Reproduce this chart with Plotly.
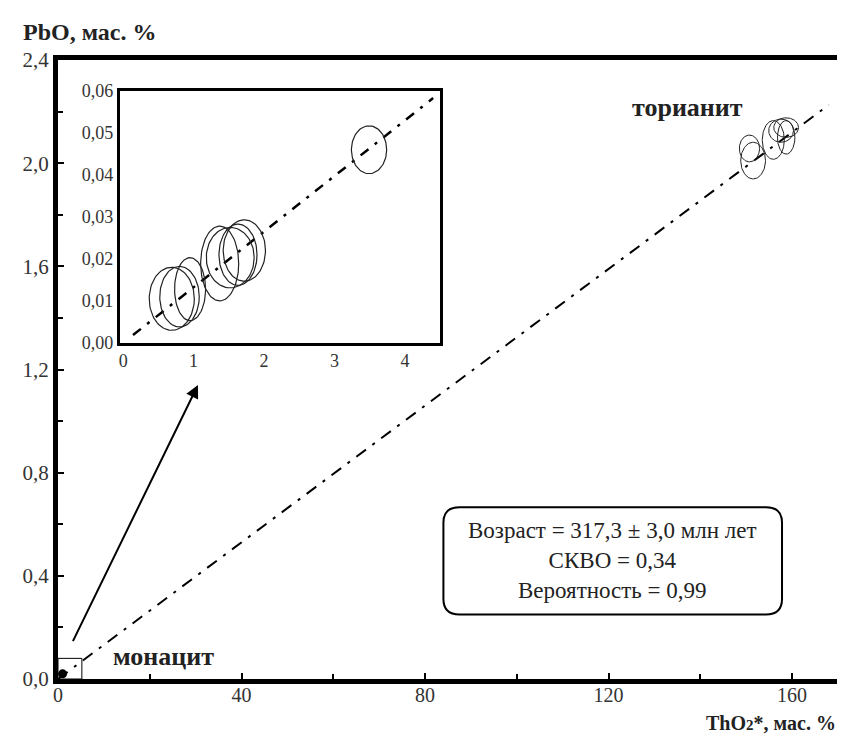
import numpy as np
import plotly.graph_objects as go

# ---- data ----
ratio = 0.01325  # isochron slope (PbO / ThO2*)
main_line_x = [0, 168]
inset_line_x = [0.14, 4.4]

# monazite ellipses (inset): centers and semi-axes
mon_cx = [0.69, 0.80, 0.95, 1.37, 1.52, 1.63, 1.72, 3.49]
mon_cy = [0.0105, 0.0110, 0.0128, 0.0189, 0.0203, 0.0210, 0.0220, 0.0460]
mon_rx = [0.32, 0.28, 0.22, 0.27, 0.34, 0.27, 0.30, 0.25]
mon_ry = [0.0075, 0.0072, 0.0075, 0.0089, 0.0072, 0.0073, 0.0073, 0.0057]

# thorianite ellipses (main plot)
tho_cx = [150.7, 151.5, 155.9, 157.6, 158.7, 158.7]
tho_cy = [2.057, 2.010, 2.090, 2.126, 2.138, 2.100]
tho_rx = [2.2, 2.7, 2.4, 2.7, 2.7, 1.9]
tho_ry = [0.052, 0.071, 0.075, 0.045, 0.038, 0.065]

x_ticks = [0, 40, 80, 120, 160]
y_ticks = [0.0, 0.4, 0.8, 1.2, 1.6, 2.0, 2.4]
inset_x_ticks = [0, 1, 2, 3, 4]
inset_y_ticks = [0.00, 0.01, 0.02, 0.03, 0.04, 0.05, 0.06]

FONT = "Liberation Serif"
t = np.linspace(0, 2 * np.pi, 90)

fig = go.Figure()

# main isochron line
fig.add_trace(go.Scatter(
    x=main_line_x, y=[v * ratio for v in main_line_x], mode="lines",
    line=dict(color="black", width=2, dash="12px,8px,3px,8px"),
    xaxis="x", yaxis="y", showlegend=False, hoverinfo="skip"))

# thorianite ellipses
for cx, cy, rx, ry in zip(tho_cx, tho_cy, tho_rx, tho_ry):
    fig.add_trace(go.Scatter(
        x=cx + rx * np.cos(t), y=cy + ry * np.sin(t), mode="lines",
        line=dict(color="#222", width=1), xaxis="x", yaxis="y",
        showlegend=False, hoverinfo="skip"))

# monazite blob at origin (main scale)
fig.add_trace(go.Scatter(
    x=[1.0], y=[0.02], mode="markers",
    marker=dict(color="black", size=9), xaxis="x", yaxis="y",
    showlegend=False, hoverinfo="skip"))

# inset isochron line
fig.add_trace(go.Scatter(
    x=inset_line_x, y=[v * ratio for v in inset_line_x], mode="lines",
    line=dict(color="black", width=2.5, dash="10px,8px,3px,8px"),
    xaxis="x2", yaxis="y2", showlegend=False, hoverinfo="skip"))

# monazite ellipses
for cx, cy, rx, ry in zip(mon_cx, mon_cy, mon_rx, mon_ry):
    fig.add_trace(go.Scatter(
        x=cx + rx * np.cos(t), y=cy + ry * np.sin(t), mode="lines",
        line=dict(color="#222", width=1.2), xaxis="x2", yaxis="y2",
        showlegend=False, hoverinfo="skip"))

tickfont = dict(family=FONT, size=21, color="#333")
xtickfont = dict(family=FONT, size=20, color="#333")
inset_tickfont = dict(family=FONT, size=18, color="#333")

fig.update_layout(
    width=845, height=735,
    margin=dict(l=50, r=10, t=52, b=64),
    paper_bgcolor="white", plot_bgcolor="white",
    separators=", ",
    font=dict(family=FONT, color="black"),
    xaxis=dict(range=[0, 170], domain=[0, 1], tickvals=x_ticks, tickformat="d",
               showgrid=False, zeroline=False, showline=True, mirror=True,
               linecolor="black", linewidth=5, ticks="inside", ticklen=6,
               tickwidth=1.5, tickcolor="black", tickfont=xtickfont,
               ticklabelstandoff=-6,
               minor=dict(dtick=20, ticks="inside", ticklen=5, tickcolor="black"),
               anchor="y"),
    yaxis=dict(range=[0, 2.4], domain=[0, 1], tickvals=y_ticks, tickformat=".1f",
               showgrid=False, zeroline=False, showline=True, mirror=True,
               linecolor="black", linewidth=5, ticks="inside", ticklen=6,
               tickwidth=1.5, tickcolor="black", tickfont=tickfont,
               minor=dict(dtick=0.2, ticks="inside", ticklen=5, tickcolor="black"),
               anchor="x"),
    xaxis2=dict(range=[-0.05, 4.5], domain=[0.079, 0.490], tickvals=inset_x_ticks,
                tickformat="d", showgrid=False, zeroline=False, showline=True,
                mirror=True, linecolor="black", linewidth=2.5, ticks="",
                tickfont=inset_tickfont, anchor="y2"),
    yaxis2=dict(range=[0, 0.06], domain=[0.543, 0.950], tickvals=inset_y_ticks,
                tickformat=".2f", showgrid=False, zeroline=False, showline=True,
                mirror=True, linecolor="black", linewidth=2.5, ticks="",
                tickfont=inset_tickfont, anchor="x2"),
)

# small box around origin region (inset area)
fig.add_shape(type="rect", xref="x", yref="y", x0=0, x1=5.2, y0=0, y1=0.08,
              line=dict(color="black", width=1))

# rounded text box
x0, x1, y0, y1 = 84.0, 157.8, 0.25, 0.666
rx, ry = 3.5, 0.06
path = (f"M {x0+rx},{y0} L {x1-rx},{y0} Q {x1},{y0} {x1},{y0+ry} "
        f"L {x1},{y1-ry} Q {x1},{y1} {x1-rx},{y1} L {x0+rx},{y1} "
        f"Q {x0},{y1} {x0},{y1-ry} L {x0},{y0+ry} Q {x0},{y0} {x0+rx},{y0} Z")
fig.add_shape(type="path", xref="x", yref="y", path=path,
              line=dict(color="black", width=2), fillcolor="white")

fig.add_annotation(x=(x0 + x1) / 2, y=(y0 + y1) / 2, xref="x", yref="y",
                   text="Возраст = 317,3 ± 3,0 млн лет<br>СКВО = 0,34<br>Вероятность = 0,99",
                   showarrow=False, font=dict(family=FONT, size=23, color="#222"),
                   align="center")

# arrow
fig.add_annotation(x=30.5, y=1.14, ax=2.6, ay=0.123, xref="x", yref="y",
                   axref="x", ayref="y", showarrow=True, arrowhead=2,
                   arrowsize=1.3, arrowwidth=2, arrowcolor="black", text=" ")

# labels
fig.add_annotation(x=137.3, y=2.215, xref="x", yref="y", text="<b>торианит</b>",
                   showarrow=False, font=dict(family=FONT, size=26, color="#222"))
fig.add_annotation(x=23.1, y=0.089, xref="x", yref="y", text="<b>монацит</b>",
                   showarrow=False, font=dict(family=FONT, size=26, color="#222"))

# axis titles
fig.add_annotation(x=-0.048, y=1.045, xref="paper", yref="paper",
                   text="<b>PbO, мас. %</b>", showarrow=False, xanchor="left",
                   yanchor="middle", font=dict(family=FONT, size=24, color="#222"))
fig.add_annotation(x=1.0, y=-0.0711, xref="paper", yref="paper",
                   text="<b>ThO<span style='font-size:15px'>2</span>*, мас. %</b>",
                   showarrow=False, xanchor="right", yanchor="middle",
                   font=dict(family=FONT, size=20, color="#222"))

fig.write_html("out.html")
